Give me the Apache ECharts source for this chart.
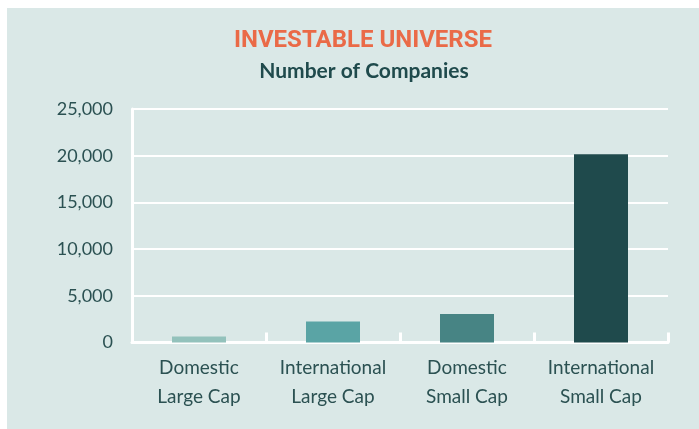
<!DOCTYPE html>
<html>
<head>
<meta charset="utf-8">
<script src="https://cdn.jsdelivr.net/npm/echarts@6/dist/echarts.min.js"></script>
<style>
html,body{margin:0;padding:0;background:#ffffff;}
#chart{width:699px;height:429px;}
</style>
</head>
<body>
<div id="chart"></div>
<script>
var categories = ['Domestic\nLarge Cap', 'International\nLarge Cap', 'Domestic\nSmall Cap', 'International\nSmall Cap'];
var companies = [650, 2250, 3050, 20150];
var barColors = ['#93c2bc', '#5aa4a5', '#478484', '#1f4a4c'];
var yTicks = [0, 5000, 10000, 15000, 20000, 25000];
var titleText = 'INVESTABLE UNIVERSE';
var subtitleText = 'Number of Companies';

var textColor = '#2b5152';
var chart = echarts.init(document.getElementById('chart'), null, {renderer: 'canvas'});
chart.setOption({
  backgroundColor: '#ffffff',
  animation: false,
  graphic: [{
    type: 'rect', z: -10, silent: true,
    shape: {x: 7, y: 8, width: 692, height: 421},
    style: {fill: '#dae8e7'}
  }],
  title: [{
    text: titleText, left: 358, top: 24, textAlign: 'center',
    textStyle: {fontFamily: 'Roboto', fontWeight: 'bold', fontSize: 24, color: '#ea6a47'}
  }, {
    text: subtitleText, left: 359, top: 56, textAlign: 'center',
    textStyle: {fontFamily: 'Lato', fontWeight: 'bold', fontSize: 21, color: '#1f4a4c'}
  }],
  grid: {left: 132, right: 31, top: 109, bottom: 429 - 342.5, containLabel: false},
  xAxis: {
    type: 'category',
    data: categories,
    axisLine: {show: true, lineStyle: {color: '#ffffff', width: 3}},
    axisTick: {show: true, inside: true, length: 10, alignWithLabel: false, lineStyle: {color: '#ffffff', width: 3}},
    axisLabel: {color: textColor, fontFamily: 'Lato', fontSize: 19, lineHeight: 29, margin: 11, interval: 0},
    splitLine: {show: false}
  },
  yAxis: {
    type: 'value',
    min: 0, max: 25000, interval: 5000,
    axisLine: {show: true, lineStyle: {color: '#ffffff', width: 3}},
    axisTick: {show: true, inside: true, length: 8, lineStyle: {color: '#ffffff', width: 2}},
    axisLabel: {
      color: textColor, fontFamily: 'Lato', fontSize: 18, margin: 19,
      formatter: function (v) { return yTicks.indexOf(v) >= 0 ? v.toLocaleString('en-US') : ''; }
    },
    splitLine: {show: true, lineStyle: {color: '#ffffff', width: 2}}
  },
  series: [{
    type: 'bar',
    barWidth: 54,
    data: companies.map(function (v, i) { return {value: v, itemStyle: {color: barColors[i]}}; })
  }]
});
</script>
</body>
</html>
